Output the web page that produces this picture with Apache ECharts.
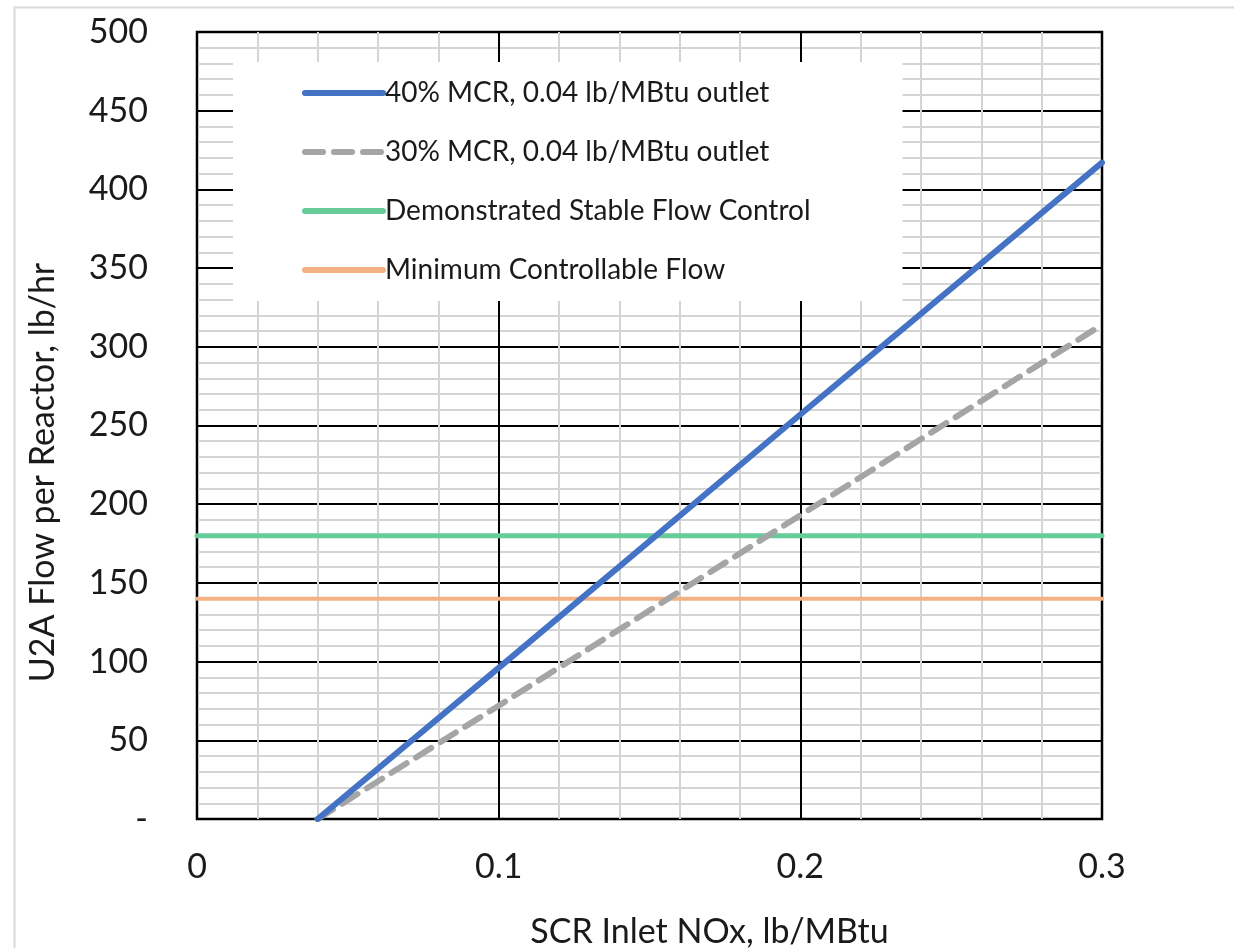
<!DOCTYPE html>
<html>
<head>
<meta charset="utf-8">
<script src="https://cdn.jsdelivr.net/npm/echarts@6/dist/echarts.min.js"></script>
<style>
  html, body { margin: 0; padding: 0; background: #fff; }
  #chart { width: 1234px; height: 948px; }
</style>
</head>
<body>
<div id="chart"></div>
<script>
// SCR inlet NOx (lb/MBtu) breakpoints for each curve
const inletNox40 = [0.04, 0.1, 0.2, 0.3];
const flow40 = [0, 96, 257, 417];
const inletNox30 = [0.04, 0.1, 0.2, 0.3];
const flow30 = [0, 72, 193, 314];

// Horizontal reference levels (lb/hr)
const refRange = [0, 0.3];
const stableFlow = 180;
const minControllable = 140;

const seriesNames = [
  '40% MCR, 0.04 lb/MBtu outlet',
  '30% MCR, 0.04 lb/MBtu outlet',
  'Demonstrated Stable Flow Control',
  'Minimum Controllable Flow'
];

const xTicks = { min: 0, max: 0.3, step: 0.1 };
const yTicks = { min: 0, max: 500, step: 50 };

const pairs = (xs, ys) => xs.map((x, i) => [x, ys[i]]);
const level = (v) => refRange.map(x => [x, v]);

const FONT = 'Lato, "Open Sans", sans-serif';

const chart = echarts.init(document.getElementById('chart'), null, { renderer: 'canvas' });

chart.setOption({
  backgroundColor: '#ffffff',
  animation: false,
  graphic: [{
    type: 'rect',
    left: 12, top: 5,
    shape: { width: 1400, height: 1100 },
    style: { fill: 'none', stroke: '#d9d9d9', lineWidth: 2 },
    silent: true, z: -10
  }],
  grid: {
    left: 197, top: 32, right: 132, bottom: 129,
    outerBoundsMode: 'none',
    containLabel: false,
    show: true, borderColor: '#000', borderWidth: 2.5,
    backgroundColor: 'transparent'
  },
  legend: {
    orient: 'vertical',
    left: 233, top: 62,
    padding: [17, 92, 17, 69],
    backgroundColor: '#ffffff',
    itemWidth: 78, itemHeight: 16,
    itemGap: 31,
    itemStyle: { opacity: 0 },
    lineStyle: { width: 6, cap: 'round' },
    textStyle: { fontFamily: FONT, fontSize: 28, color: '#1a1a1a', padding: [0, 0, 0, -3] },
    data: seriesNames
  },
  xAxis: {
    type: 'value',
    min: xTicks.min, max: xTicks.max, interval: xTicks.step,
    name: 'SCR Inlet NOx, lb/MBtu',
    nameLocation: 'middle', nameGap: 96,
    nameTextStyle: { fontFamily: FONT, fontSize: 34, color: '#1a1a1a', padding: [0, 0, 0, 120] },
    axisLine: { show: false }, axisTick: { show: false },
    axisLabel: {
      fontFamily: FONT, fontSize: 34, color: '#1a1a1a', margin: 31,
      formatter: v => (v === 0 ? '0' : String(+v.toFixed(2)))
    },
    splitLine: { show: true, lineStyle: { color: '#000', width: 2 } },
    minorTick: { show: false, splitNumber: 5 },
    minorSplitLine: { show: true, lineStyle: { color: '#d4d4d4', width: 2 } }
  },
  yAxis: {
    type: 'value',
    min: yTicks.min, max: yTicks.max, interval: yTicks.step,
    name: 'U2A Flow per Reactor, lb/hr',
    nameLocation: 'middle', nameGap: 137, nameRotate: 90,
    nameTextStyle: { fontFamily: FONT, fontSize: 34, color: '#1a1a1a', padding: [0, 94, 0, 0] },
    axisLine: { show: false }, axisTick: { show: false },
    axisLabel: {
      fontFamily: FONT, fontSize: 34, color: '#1a1a1a', margin: 49,
      formatter: v => (v === 0 ? '-' : String(v))
    },
    splitLine: { show: true, lineStyle: { color: '#000', width: 2 } },
    minorTick: { show: false, splitNumber: 5 },
    minorSplitLine: { show: true, lineStyle: { color: '#d4d4d4', width: 2 } }
  },
  series: [
    {
      name: seriesNames[0], type: 'line', data: pairs(inletNox40, flow40),
      symbol: 'none', z: 5,
      color: '#4472C4',
      lineStyle: { color: '#4472C4', width: 6, cap: 'round' }
    },
    {
      name: seriesNames[1], type: 'line', data: pairs(inletNox30, flow30),
      symbol: 'none', z: 4,
      color: '#A5A5A5',
      lineStyle: { color: '#A5A5A5', width: 6, type: [18, 11], cap: 'round' }
    },
    {
      name: seriesNames[2], type: 'line', data: level(stableFlow),
      symbol: 'none', z: 3,
      color: '#66CC99',
      lineStyle: { color: '#66CC99', width: 5, cap: 'round' }
    },
    {
      name: seriesNames[3], type: 'line', data: level(minControllable),
      symbol: 'none', z: 3,
      color: '#F4B183',
      lineStyle: { color: '#F4B183', width: 4, cap: 'round' }
    }
  ]
});
</script>
</body>
</html>
